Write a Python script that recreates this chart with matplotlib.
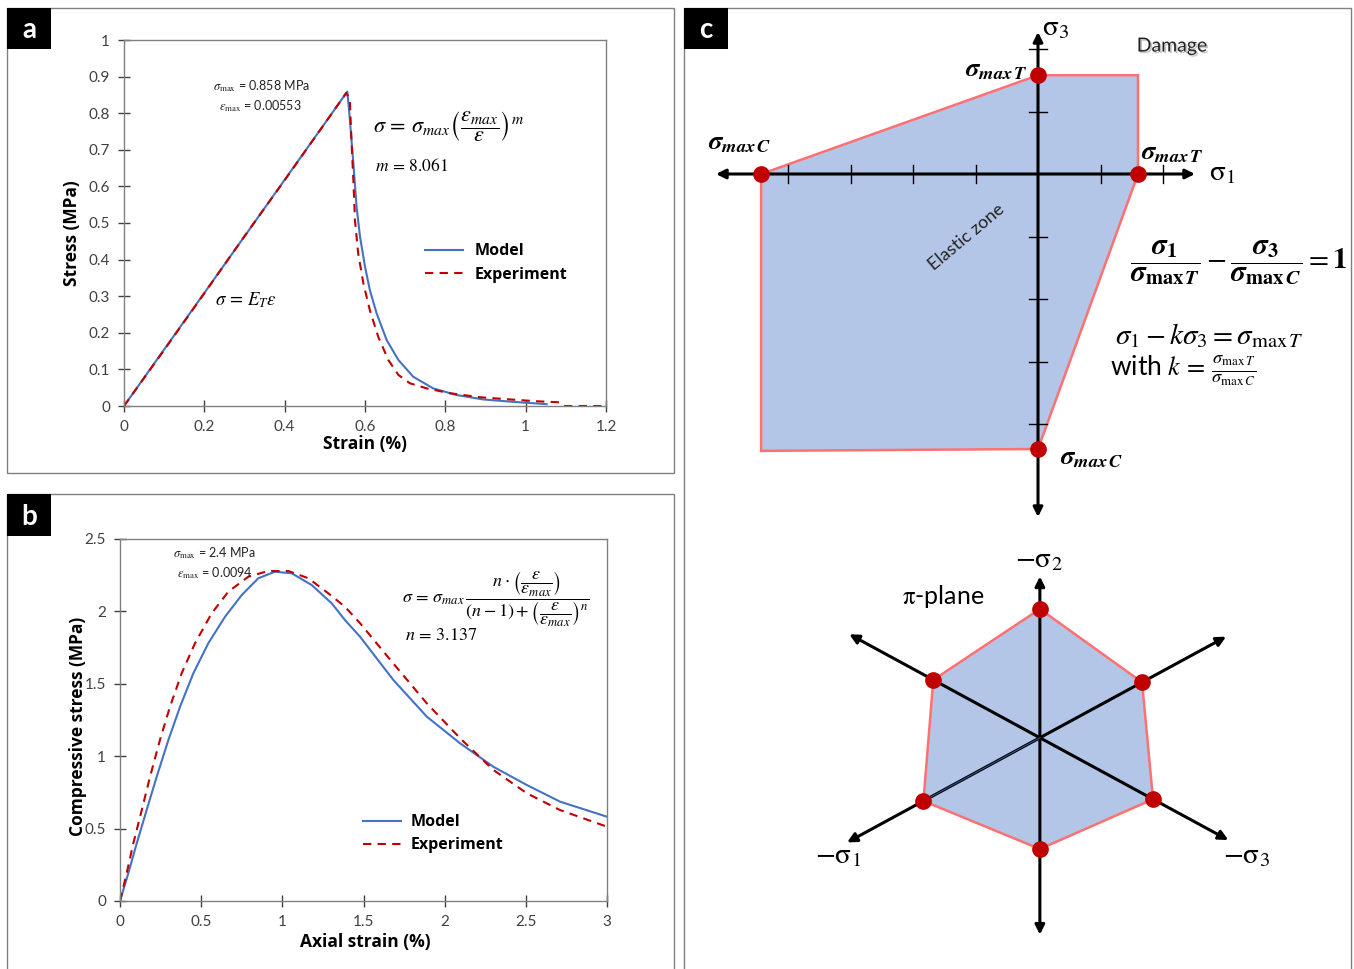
import numpy as np
import matplotlib

matplotlib.use("Agg")
import matplotlib.pyplot as plt
import matplotlib.patheffects as pe
from matplotlib.lines import Line2D
from matplotlib.patches import Polygon, Rectangle

plt.rcParams["font.family"] = ["Lato", "DejaVu Sans"]
plt.rcParams["mathtext.fontset"] = "stix"

# ---- data: panel a (tension) ----
a_model_strain = [0, 0.556, 0.561, 0.571, 0.579, 0.5875, 0.600, 0.612, 0.629, 0.654, 0.683,
                  0.720, 0.770, 0.828, 0.894, 0.961, 1.052]
a_model_stress = [0, 0.859, 0.80, 0.663, 0.545, 0.463, 0.381, 0.317, 0.253, 0.180, 0.126,
                  0.080, 0.048, 0.030, 0.018, 0.012, 0.005]
a_exp_strain = [0, 0.10, 0.20, 0.30, 0.40, 0.50, 0.553, 0.562, 0.567, 0.571, 0.575, 0.583,
                0.596, 0.612, 0.633, 0.658, 0.683, 0.712, 0.754, 0.811, 0.886, 0.961, 1.027,
                1.085, 1.098, 1.2]
a_exp_stress = [0, 0.153, 0.308, 0.464, 0.617, 0.772, 0.855, 0.84, 0.708, 0.617, 0.508, 0.417,
                0.335, 0.262, 0.189, 0.126, 0.085, 0.062, 0.048, 0.035, 0.024, 0.018, 0.013,
                0.010, 0.0, 0.0]

# ---- data: panel b (compression) ----
b_model_strain = [0, 0.051, 0.103, 0.164, 0.226, 0.298, 0.370, 0.452, 0.544, 0.647, 0.750,
                  0.852, 0.955, 1.058, 1.181, 1.304, 1.386, 1.479, 1.684, 1.89, 2.095, 2.30,
                  2.506, 2.711, 3.0]
b_model_stress = [0, 0.191, 0.398, 0.628, 0.858, 1.112, 1.342, 1.573, 1.78, 1.963, 2.113,
                  2.229, 2.274, 2.263, 2.182, 2.056, 1.94, 1.825, 1.526, 1.273, 1.089, 0.927,
                  0.801, 0.686, 0.582]
b_exp_strain = [0, 0.041, 0.082, 0.134, 0.185, 0.246, 0.308, 0.380, 0.462, 0.565, 0.667,
                0.791, 0.914, 1.037, 1.160, 1.283, 1.386, 1.479, 1.684, 1.89, 2.095, 2.30,
                2.506, 2.711, 3.0]
b_exp_stress = [0, 0.191, 0.398, 0.628, 0.858, 1.112, 1.342, 1.573, 1.78, 1.987, 2.136,
                2.240, 2.279, 2.279, 2.229, 2.125, 2.032, 1.918, 1.64, 1.365, 1.124, 0.905,
                0.744, 0.628, 0.513]

# ---- data: panel c (criterion, tick units) ----
crit_sig1 = [0.0, 1.6, 1.6, 0.0, -4.43, -4.43]
crit_sig3 = [1.58, 1.58, 0.0, -4.4, -4.43, 0.0]
crit_dots = [0, 2, 3, 5]
axis_ticks_1 = [-4, -3, -2, -1, 1, 2]
axis_ticks_3 = [2, 1, -1, -2, -3, -4]
pi_angles = [90, 28.5, -28.5, -90, -151.5, 151.5]
pi_radii = [2.06, 1.86, 2.06, 1.78, 2.12, 1.94]
pi_axis_len = [2.58, 3.39, 3.43, 3.15, 3.51, 3.47]
pi_center = (0.03, -9.02)

BLUE, RED = "#4472c4", "#c00000"
FILL, EDGE = "#b4c6e7", "#ff7070"
BOLD = dict(family=["Open Sans", "DejaVu Sans"], weight="bold")

W, H = 1354, 969
fig = plt.figure(figsize=(W / 100, H / 100), dpi=100)


def px_axes(x0, y0, x1, y1):
    return fig.add_axes([x0 / W, 1 - y1 / H, (x1 - x0) / W, (y1 - y0) / H])


def frame(x0, y0, x1, y1, **kw):
    fig.add_artist(Rectangle((x0 / W, 1 - y1 / H), (x1 - x0) / W, (y1 - y0) / H,
                             transform=fig.transFigure, **kw))


def tag(x0, y0, x1, y1, s):
    frame(x0, y0, x1, y1, fc="black", ec="none")
    fig.text((x0 + x1) / 2 / W, 1 - (y0 + y1) / 2 / H - 0.002, s, color="white",
             fontsize=20, fontweight="bold", ha="center", va="center")


def style(ax):
    for s in ax.spines.values():
        s.set_color("#808080")
        s.set_linewidth(1)
    ax.tick_params(direction="inout", length=8, width=1, color="#404040",
                   labelcolor="#404040", labelsize=11, pad=6)


# panel frames
frame(7, 8, 674, 473, fill=False, ec="#808080", lw=1)
frame(7, 494, 674, 975, fill=False, ec="#808080", lw=1)
frame(684, 8, 1351, 975, fill=False, ec="#808080", lw=1)

handles = [Line2D([], [], color=BLUE, lw=1.5), Line2D([], [], color=RED, lw=1.5, ls=(0, (4, 3)))]
leg_prop = dict(family=["Open Sans", "DejaVu Sans"], weight="bold", size=11.5)

# ---- a ----
ax = px_axes(124, 40, 606, 406)
ax.plot(a_model_strain, a_model_stress, color=BLUE, lw=1.5)
ax.plot(a_exp_strain, a_exp_stress, color=RED, lw=1.5, ls=(0, (4, 3)))
ax.set_xlim(0, 1.2)
ax.set_ylim(0, 1)
ax.set_xticks(np.arange(0, 1.21, 0.2))
ax.set_xticklabels(["0", "0.2", "0.4", "0.6", "0.8", "1", "1.2"])
ax.set_yticks(np.arange(0, 1.01, 0.1))
ax.set_yticklabels(["0", "0.1", "0.2", "0.3", "0.4", "0.5", "0.6", "0.7", "0.8", "0.9", "1"])
style(ax)
ax.set_xlabel("Strain (%)", fontsize=12.5, va="center", **BOLD)
ax.xaxis.set_label_coords(0.5, -0.104)
ax.set_ylabel("Stress (MPa)", fontsize=12.5, va="center", **BOLD)
ax.yaxis.set_label_coords(-0.108, 0.473)
ax.text(0.185, 0.874, r"$\sigma_{\rm max}$ = 0.858 MPa", transform=ax.transAxes,
        fontsize=9, va="center", color="#222222")
ax.text(0.197, 0.82, r"$\varepsilon_{\rm max}$ = 0.00553", transform=ax.transAxes,
        fontsize=9, va="center", color="#222222")
ax.text(0.674, 0.765, r"$\sigma\,=\,\sigma_{max}\left(\dfrac{\varepsilon_{max}}{\varepsilon}\right)^{m}$",
        transform=ax.transAxes, fontsize=16, ha="center", va="center")
ax.text(0.521, 0.658, r"$m\,=\,8.061$", transform=ax.transAxes, fontsize=12.5, va="center")
ax.text(0.189, 0.29, r"$\sigma\,=\,E_T\varepsilon$", transform=ax.transAxes, fontsize=13.5,
        va="center")
ax.legend(handles, ["Model", "Experiment"], loc="upper left", bbox_to_anchor=(0.624, 0.444),
          frameon=False, borderpad=0, borderaxespad=0, handlelength=2.4, handletextpad=0.7,
          labelspacing=0.45, prop=leg_prop)

# ---- b ----
ax = px_axes(120, 539, 607, 901)
ax.plot(b_model_strain, b_model_stress, color=BLUE, lw=1.5)
ax.plot(b_exp_strain, b_exp_stress, color=RED, lw=1.5, ls=(0, (4, 3)))
ax.set_xlim(0, 3)
ax.set_ylim(0, 2.5)
ax.set_xticks(np.arange(0, 3.01, 0.5))
ax.set_xticklabels(["0", "0.5", "1", "1.5", "2", "2.5", "3"])
ax.set_yticks(np.arange(0, 2.51, 0.5))
ax.set_yticklabels(["0", "0.5", "1", "1.5", "2", "2.5"])
style(ax)
ax.set_xlabel("Axial strain (%)", fontsize=12.5, va="center", **BOLD)
ax.xaxis.set_label_coords(0.503, -0.113)
ax.set_ylabel("Compressive stress (MPa)", fontsize=12.5, va="center", **BOLD)
ax.yaxis.set_label_coords(-0.086, 0.483)
ax.text(0.109, 0.961, r"$\sigma_{\rm max}$ = 2.4 MPa", transform=ax.transAxes,
        fontsize=9, va="center", color="#222222")
ax.text(0.117, 0.906, r"$\varepsilon_{\rm max}$ = 0.0094", transform=ax.transAxes,
        fontsize=9, va="center", color="#222222")
ax.text(0.772, 0.835,
        r"$\sigma\,=\,\sigma_{max}\,\dfrac{n\cdot\left(\dfrac{\varepsilon}{\varepsilon_{max}}\right)}"
        r"{(n-1)+\left(\dfrac{\varepsilon}{\varepsilon_{max}}\right)^{n}}$",
        transform=ax.transAxes, fontsize=13, ha="center", va="center")
ax.text(0.585, 0.735, r"$n\,=\,3.137$", transform=ax.transAxes, fontsize=13, va="center")
ax.legend(handles, ["Model", "Experiment"], loc="upper left", bbox_to_anchor=(0.499, 0.24),
          frameon=False, borderpad=0, borderaxespad=0, handlelength=2.4, handletextpad=0.6,
          labelspacing=0.45, prop=leg_prop)

# ---- c ----
ax = px_axes(684, 8, 1350, 969)
ax.set_xlim((684 - 1038) / 62.5, (1350 - 1038) / 62.5)
ax.set_ylim((174 - 969) / 62.5, (174 - 8) / 62.5)
ax.set_axis_off()


def c_xy(px, py):
    return (px - 1038) / 62.5, (174 - py) / 62.5


def arrow(x0, y0, x1, y1, both=False, lw=2.2):
    ax.annotate("", xy=(x1, y1), xytext=(x0, y0),
                arrowprops=dict(arrowstyle="<|-|>" if both else "-|>", color="black", lw=lw,
                                shrinkA=0, shrinkB=0, mutation_scale=14), zorder=3)


ax.add_patch(Polygon(np.column_stack([crit_sig1, crit_sig3]), closed=True, fc=FILL, ec=EDGE,
                     lw=1.8, zorder=1))
arrow(*c_xy(1195, 174), *c_xy(716, 174), both=True)
arrow(*c_xy(1038, 517), *c_xy(1038, 32), both=True)
for t in axis_ticks_1:
    ax.plot([t, t], [-0.14, 0.14], color="black", lw=1, zorder=3)
for t in axis_ticks_3:
    ax.plot([-0.14, 0.14], [t, t], color="black", lw=1, zorder=3)
ax.plot([crit_sig1[i] for i in crit_dots], [crit_sig3[i] for i in crit_dots], "o",
        color=RED, ms=11, zorder=5)

bfT = r"$\mathbfit{\sigma}_{\mathbfit{max\,T}}$"
bfC = r"$\mathbfit{\sigma}_{\mathbfit{max\,C}}$"
ax.text(*c_xy(996, 70), bfT, fontsize=19, ha="center", va="center")
ax.text(*c_xy(740, 143), bfC, fontsize=19, ha="center", va="center")
ax.text(*c_xy(1172, 153), bfT, fontsize=19, ha="center", va="center")
ax.text(*c_xy(1092, 457), bfC, fontsize=19, ha="center", va="center")
ax.text(*c_xy(1056, 28), r"$\mathrm{\sigma}_3$", fontsize=21, ha="center", va="center")
ax.text(*c_xy(1222, 173), r"$\mathrm{\sigma}_1$", fontsize=21, ha="center", va="center")
ax.text(*c_xy(1172, 46), "Damage", fontsize=14, ha="center", va="center", color="#222222",
        path_effects=[pe.SimplePatchShadow(offset=(1.2, -1.2), shadow_rgbFace="#888888",
                                           alpha=0.5), pe.Normal()])
ax.text(*c_xy(967, 237), "Elastic zone", fontsize=13, ha="center", va="center", rotation=40,
        color="#222222")
ax.text(*c_xy(1239, 263),
        r"$\dfrac{\mathbfit{\sigma}_{\mathbf{1}}}{\mathbfit{\sigma}_{\mathbf{max}\,\mathbfit{T}}}"
        r" - \dfrac{\mathbfit{\sigma}_{\mathbf{3}}}{\mathbfit{\sigma}_{\mathbf{max}\,\mathbfit{C}}}"
        r" = \mathbf{1}$", fontsize=21, ha="center", va="center")
ax.text(*c_xy(1209, 336), r"$\sigma_1 - k\sigma_3 = \sigma_{\mathrm{max}\,T}$", fontsize=21,
        ha="center", va="center")
ax.text(*c_xy(1110, 371), r"with $k\,=\,\frac{\sigma_{\mathrm{max}\,T}}{\sigma_{\mathrm{max}\,C}}$",
        fontsize=19, ha="left", va="center")

# pi-plane
cx, cy = pi_center
ang = np.radians(pi_angles)
hx = cx + np.array(pi_radii) * np.cos(ang)
hy = cy + np.array(pi_radii) * np.sin(ang)
ax.add_patch(Polygon(np.column_stack([hx, hy]), closed=True, fc=FILL, ec=EDGE, lw=1.8, zorder=1))
for a, L in zip(ang, pi_axis_len):
    arrow(cx, cy, cx + L * np.cos(a), cy + L * np.sin(a))
ax.plot([cx, hx[4]], [cy, hy[4]], color="#2e5d9c", lw=0.7, zorder=4)
ax.plot(hx, hy, "o", color=RED, ms=11, zorder=5)
ax.text(*c_xy(1039, 560), r"$-\mathrm{\sigma}_2$", fontsize=21, ha="center", va="center")
ax.text(*c_xy(943, 597), r"$\mathrm{\pi}$-plane", fontsize=18, ha="center", va="center")
ax.text(*c_xy(838, 856), r"$-\mathrm{\sigma}_1$", fontsize=21, ha="center", va="center")
ax.text(*c_xy(1247, 856), r"$-\mathrm{\sigma}_3$", fontsize=21, ha="center", va="center")

tag(7, 8, 51, 49, "a")
tag(7, 494, 51, 536, "b")
tag(684, 8, 728, 49, "c")

fig.savefig("out.png", dpi=100)
